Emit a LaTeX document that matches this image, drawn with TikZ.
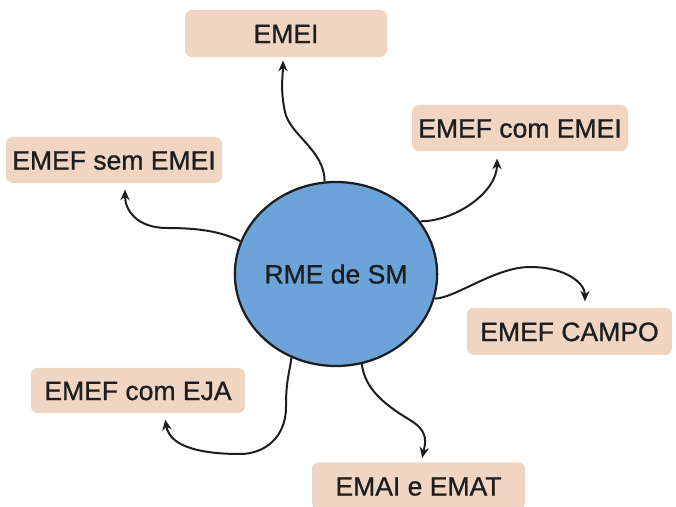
\documentclass[tikz,border=0pt]{standalone}
\usepackage{fontspec}
\setmainfont{Liberation Sans}[FakeBold=0.9]
\usetikzlibrary{arrows.meta,shapes.geometric}
\definecolor{peach}{HTML}{F0D6C2}
\definecolor{blobblue}{HTML}{6CA4D9}
\definecolor{ink}{HTML}{1E1E1E}
\begin{document}
\begin{tikzpicture}[x=0.75pt,y=0.75pt,
  lbl/.style={fill=peach, rounded corners=5pt, inner sep=0pt, text=ink,
    font=\fontsize{19.9}{24}\selectfont, text height=14.3pt, text depth=0pt, align=center},
  hub/.style={ellipse, fill=blobblue, draw=ink, line width=1.7pt, inner sep=0pt,
    minimum width=148pt, minimum height=138pt, text=ink, font=\fontsize{19.9}{24}\selectfont},
  conn/.style={draw=ink, line width=1.5pt, -{Stealth[length=8pt,width=7pt]}, shorten >=1pt}]
\useasboundingbox (0,0) rectangle (676,507);
\fill[white] (0,0) rectangle (676,507);

% nodes
\node[hub] (rme) at (336,233) {RME de SM};
\node[lbl, minimum width=151.5pt, minimum height=35.25pt] (emei) at (286,473.5) {EMEI};
\node[lbl, minimum width=162pt, minimum height=34.5pt] (emefcom) at (520,379) {EMEF com EMEI};
\node[lbl, minimum width=162pt, minimum height=34.5pt] (emefsem) at (114,347) {EMEF sem EMEI};
\node[lbl, minimum width=153.75pt, minimum height=35.25pt] (campo) at (569.5,175.5) {EMEF CAMPO};
\node[lbl, minimum width=160.5pt, minimum height=33.75pt] (eja) at (138,116.5) {EMEF com EJA};
\node[lbl, minimum width=159.75pt, minimum height=35.25pt] (emai) at (418.5,21) {EMAI e EMAT};

% connectors
\draw[conn] (rme.97) .. controls +(0,31) and +(5,-23) .. (285,395)
  .. controls +(-5,23) and +(0,-15) .. ([xshift=-2.25pt,yshift=-1.5pt]emei.south);
\draw[conn] (rme.161) .. controls +(-20,10) and +(30,0) .. (167,279)
  .. controls +(-30,0) and +(0,-22) .. ([xshift=8.25pt,yshift=-3.75pt]emefsem.south);
\draw[conn] (rme.32) .. controls +(35,0) and +(0,-35) .. ([xshift=-17.25pt,yshift=-4.5pt]emefcom.south);
\draw[conn] (rme.-14) .. controls +(20,0) and +(-35,0) .. (530,240)
  .. controls +(35,0) and +(0,20) .. ([xshift=11.6pt,yshift=3.75pt]campo.north);
\draw[conn] (rme.242) .. controls +(-3,-20) and +(0,25) .. (286,100)
  .. controls +(0,-30) and +(25,0) .. (240,53)
  .. controls +(-35,0) and +(5,-30) .. ([xshift=20.25pt,yshift=-3.75pt]eja.south);
\draw[conn] (rme.-74) .. controls +(3,-25) and +(-25,15) .. (410,87)
  .. controls +(20,-12) and +(3,15) .. ([xshift=2.6pt,yshift=2.25pt]emai.north);
\end{tikzpicture}
\end{document}
